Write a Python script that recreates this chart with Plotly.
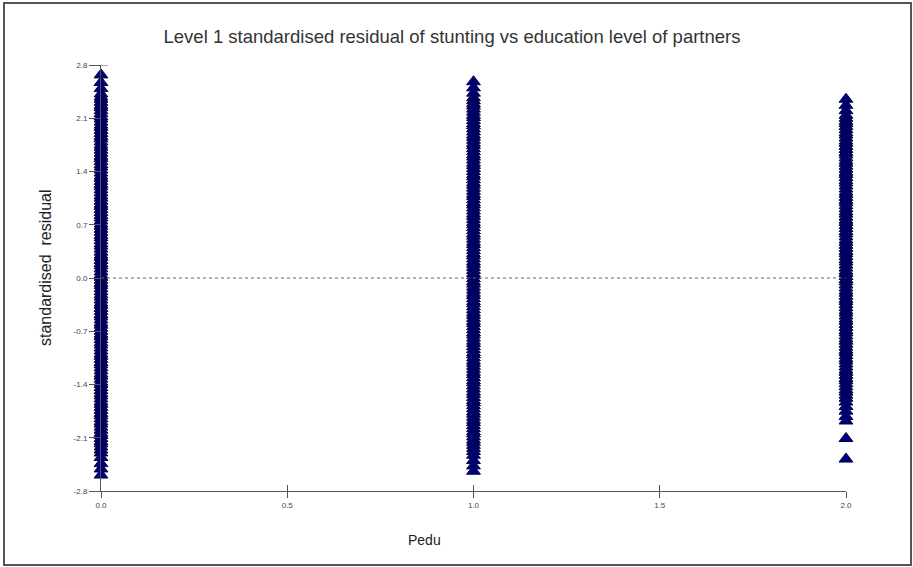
import plotly.graph_objects as go

# Data: standardised residuals stacked at each Pedu level
pedu_0 = [2.67, 2.57, 2.49, 2.42, 2.38, 2.35, 2.31, 2.27, 2.24, 2.20, 2.16, 2.12, 2.09, 2.05,
          2.01, 1.98, 1.94, 1.90, 1.86, 1.83, 1.79, 1.75, 1.72, 1.68, 1.64, 1.60, 1.57, 1.53,
          1.49, 1.46, 1.42, 1.38, 1.34, 1.31, 1.27, 1.23, 1.20, 1.16, 1.12, 1.08, 1.05, 1.01,
          0.97, 0.94, 0.90, 0.86, 0.82, 0.79, 0.75, 0.71, 0.68, 0.64, 0.60, 0.56, 0.53, 0.49,
          0.45, 0.42, 0.38, 0.34, 0.30, 0.27, 0.23, 0.19, 0.16, 0.12, 0.08, 0.04, 0.01, -0.03,
          -0.07, -0.10, -0.14, -0.18, -0.22, -0.25, -0.29, -0.33, -0.36, -0.40, -0.44, -0.48,
          -0.51, -0.55, -0.59, -0.62, -0.66, -0.70, -0.74, -0.77, -0.81, -0.85, -0.88, -0.92,
          -0.96, -1.00, -1.03, -1.07, -1.11, -1.14, -1.18, -1.22, -1.26, -1.29, -1.33, -1.37,
          -1.40, -1.44, -1.48, -1.52, -1.55, -1.59, -1.63, -1.66, -1.70, -1.74, -1.78, -1.81,
          -1.85, -1.89, -1.92, -1.96, -2.00, -2.04, -2.07, -2.11, -2.15, -2.18, -2.22, -2.26,
          -2.30, -2.36, -2.44, -2.51, -2.59]
pedu_1 = [2.58, 2.50, 2.43, 2.37, 2.33, 2.29, 2.26, 2.22, 2.18, 2.14, 2.11, 2.07, 2.03, 2.00,
          1.96, 1.92, 1.88, 1.85, 1.81, 1.77, 1.74, 1.70, 1.66, 1.62, 1.59, 1.55, 1.51, 1.48,
          1.44, 1.40, 1.36, 1.33, 1.29, 1.25, 1.22, 1.18, 1.14, 1.10, 1.07, 1.03, 0.99, 0.96,
          0.92, 0.88, 0.84, 0.81, 0.77, 0.73, 0.70, 0.66, 0.62, 0.58, 0.55, 0.51, 0.47, 0.44,
          0.40, 0.36, 0.32, 0.29, 0.25, 0.21, 0.18, 0.14, 0.10, 0.06, 0.03, -0.01, -0.05, -0.08,
          -0.12, -0.16, -0.20, -0.23, -0.27, -0.31, -0.34, -0.38, -0.42, -0.46, -0.49, -0.53,
          -0.57, -0.60, -0.64, -0.68, -0.72, -0.75, -0.79, -0.83, -0.86, -0.90, -0.94, -0.98,
          -1.01, -1.05, -1.09, -1.12, -1.16, -1.20, -1.24, -1.27, -1.31, -1.35, -1.38, -1.42,
          -1.46, -1.50, -1.53, -1.57, -1.61, -1.64, -1.68, -1.72, -1.76, -1.79, -1.83, -1.87,
          -1.90, -1.94, -1.98, -2.02, -2.05, -2.09, -2.13, -2.16, -2.20, -2.24, -2.28, -2.33,
          -2.40, -2.47, -2.54]
pedu_2 = [2.35, 2.27, 2.20, 2.14, 2.10, 2.06, 2.03, 1.99, 1.95, 1.91, 1.88, 1.84, 1.80, 1.77,
          1.73, 1.69, 1.65, 1.62, 1.58, 1.54, 1.51, 1.47, 1.43, 1.39, 1.36, 1.32, 1.28, 1.25,
          1.21, 1.17, 1.13, 1.10, 1.06, 1.02, 0.99, 0.95, 0.91, 0.87, 0.84, 0.80, 0.76, 0.73,
          0.69, 0.65, 0.61, 0.58, 0.54, 0.50, 0.47, 0.43, 0.39, 0.35, 0.32, 0.28, 0.24, 0.21,
          0.17, 0.13, 0.09, 0.06, 0.02, -0.02, -0.05, -0.09, -0.13, -0.17, -0.20, -0.24, -0.28,
          -0.31, -0.35, -0.39, -0.43, -0.46, -0.50, -0.54, -0.57, -0.61, -0.65, -0.69, -0.72,
          -0.76, -0.80, -0.83, -0.87, -0.91, -0.95, -0.98, -1.02, -1.06, -1.09, -1.13, -1.17,
          -1.21, -1.24, -1.28, -1.32, -1.35, -1.39, -1.43, -1.47, -1.50, -1.54, -1.58, -1.63,
          -1.69, -1.75, -1.82, -1.88, -2.11, -2.38]

x_ticks = [0.0, 0.5, 1.0, 1.5, 2.0]
x_tick_labels = ["0.0", "0.5", "1.0", "1.5", "2.0"]
y_ticks = [2.8, 2.1, 1.4, 0.7, 0.0, -0.7, -1.4, -2.1, -2.8]
y_tick_labels = ["2.8", "2.1", "1.4", "0.7", "0.0", "-0.7", "-1.4", "-2.1", "-2.8"]

title_text = "Level 1 standardised residual of stunting vs education level of partners"
x_title = "Pedu"
y_title = "standardised  residual"

xs = [0.0] * len(pedu_0) + [1.0] * len(pedu_1) + [2.0] * len(pedu_2)
ys = pedu_0 + pedu_1 + pedu_2

# plot area geometry (pixels)
W, H = 913, 567
L, R, T, B = 101, W - 846, 65, H - 491
pw, ph = W - L - R, H - T - B


def px(xp):
    return (xp - L) / pw


def py(yp):
    return (H - B - yp) / ph


fig = go.Figure()
fig.add_trace(go.Scatter(
    x=xs, y=ys, mode="markers", cliponaxis=False, showlegend=False,
    marker=dict(symbol="triangle-up", size=12, color="#00007f",
                line=dict(color="#000040", width=1)),
))
# invisible trace on an overlay axis to get crossing x ticks
fig.add_trace(go.Scatter(x=[0, 2], y=[0, 0], xaxis="x2", mode="markers",
                         marker=dict(opacity=0), showlegend=False, hoverinfo="skip"))

fig.update_layout(
    width=W, height=H,
    margin=dict(l=L, r=R, t=T, b=B),
    paper_bgcolor="white", plot_bgcolor="white",
    font=dict(family="Liberation Sans, Arial, sans-serif", color="#333"),
    title=dict(text=title_text, xref="container", x=452 / W, y=1 - 37 / H,
               xanchor="center", yanchor="middle",
               font=dict(size=18.5, color="#333")),
    xaxis=dict(range=[0, 2], tickvals=x_ticks, ticktext=x_tick_labels,
               showgrid=False, zeroline=False, showline=True, linecolor="#555",
               linewidth=1, ticks="outside", ticklen=6, tickcolor="#555",
               tickfont=dict(size=8, color="#444")),
    xaxis2=dict(range=[0, 2], overlaying="x", side="bottom", tickvals=x_ticks,
                showticklabels=False, showgrid=False, zeroline=False,
                ticks="inside", ticklen=6, tickcolor="#555", showline=False),
    yaxis=dict(range=[-2.8, 2.8], tickvals=y_ticks, ticktext=y_tick_labels,
               showgrid=False, zeroline=False, showline=True, linecolor="#555",
               linewidth=1, ticks="outside", ticklen=11, tickcolor="#555",
               tickfont=dict(size=8, color="#444")),
    shapes=[
        # outer frame
        dict(type="rect", xref="paper", yref="paper",
             x0=px(4), x1=px(911), y0=py(565), y1=py(3),
             line=dict(color="#555", width=2)),
        # dotted zero reference line
        dict(type="line", xref="paper", yref="y", x0=0, x1=1, y0=0, y1=0,
             line=dict(color="#666", width=1, dash="dot")),
        # top cap of y axis
        dict(type="line", xref="paper", yref="y", x0=px(93), x1=px(108),
             y0=2.8, y1=2.8, line=dict(color="#555", width=1)),
    ],
    annotations=[
        dict(text=y_title, xref="paper", yref="paper", x=px(45), y=py(268),
             textangle=-90, showarrow=False, xanchor="center", yanchor="middle",
             font=dict(size=16, color="#222")),
        dict(text=x_title, xref="paper", yref="paper", x=px(424), y=py(540),
             showarrow=False, xanchor="center", yanchor="middle",
             font=dict(size=14, color="#222")),
    ],
)

fig.write_html("out.html", config={"displayModeBar": False},
               post_script="document.body.style.margin='0';")
